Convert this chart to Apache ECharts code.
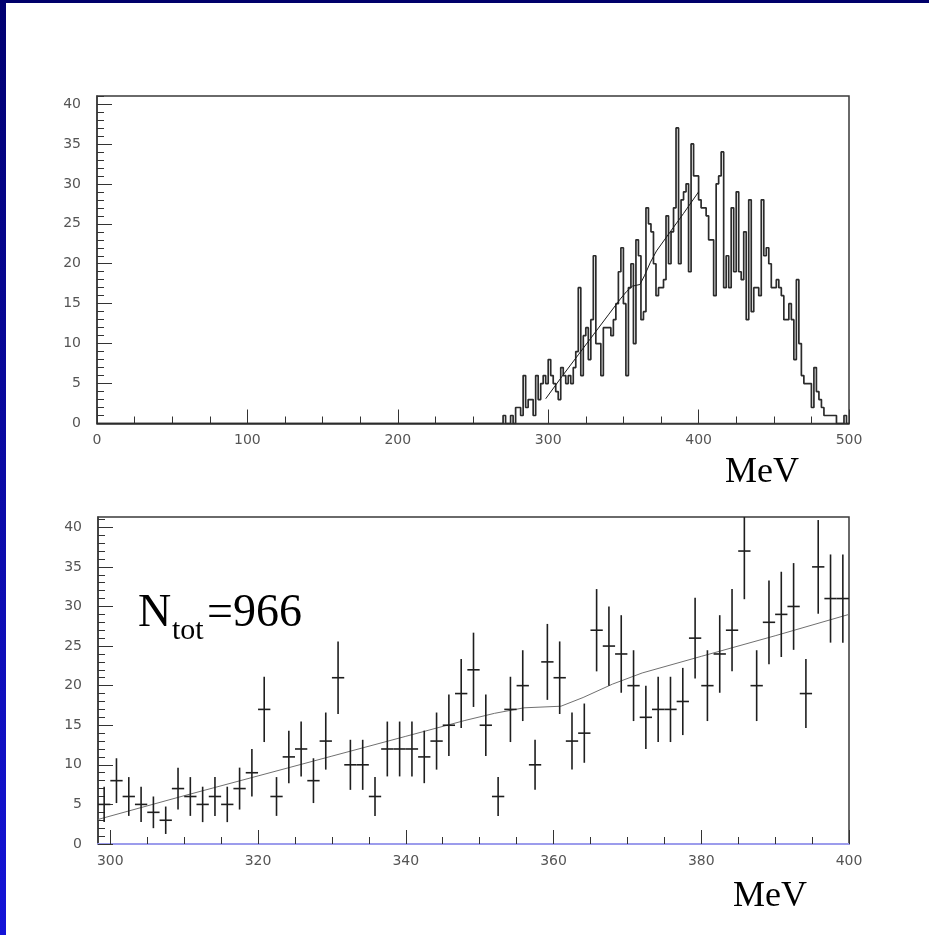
<!DOCTYPE html>
<html>
<head>
<meta charset="utf-8">
<script src="https://cdn.jsdelivr.net/npm/echarts@6/dist/echarts.min.js"></script>
<style>
  html, body { margin: 0; padding: 0; background: #ffffff; }
  #chart { width: 929px; height: 935px; }
</style>
</head>
<body>
<div id="chart"></div>
<script>
// Energy spectrum, fixed 5/3 MeV bins; the first listed bin starts at 270 MeV
const binWidth = 5 / 3;
const firstEdge = 270;
const counts = [
  1, 0, 0, 1, 0, 2, 2, 1, 6, 2, 3, 3, 1, 6, 3, 5, 6,
  5, 8, 6, 5, 4, 3, 7, 6, 5, 6, 5, 7, 9, 17, 6, 11, 12, 8, 13, 21,
  10, 10, 6, 12, 12, 12, 11, 13, 15, 19, 22, 15, 6, 17, 20, 10, 23, 21, 13, 14,
  27, 25, 24, 20, 16, 17, 17, 18, 26, 20, 24, 27, 37, 20, 28, 29, 30, 19, 35, 31, 31,
  28, 27, 27, 26, 23, 23, 16, 30, 31, 34, 17, 21, 17, 27, 19, 29, 19, 18, 24, 13,
  28, 14, 17, 17, 16, 28, 21, 22, 20, 17, 17, 18, 17, 16, 13, 13, 15, 13, 8, 18,
  10, 6, 5, 5, 5, 2, 7, 4, 3, 2, 1, 1, 1, 1, 1, 0, 0, 0, 1, 0
];

// Fitted curve over the 300-400 MeV window
const fitX = [298.33, 310, 320, 330, 340, 348, 352, 356, 361, 364, 368, 372, 380, 390, 400];
const fitY = [3.1, 6.1, 8.6, 11.1, 13.6, 15.6, 16.5, 17.2, 17.4, 18.5, 20.2, 21.6, 23.7, 26.3, 29.0];

// Axis ranges and tick positions
const topXRange = [0, 500];
const topXMajor = [0, 100, 200, 300, 400, 500];
const zoomXRange = [298.3333, 400];
const zoomXMajor = [300, 320, 340, 360, 380, 400];
const yMajor = [0, 5, 10, 15, 20, 25, 30, 35, 40];
const topYMax = 41;
const zoomYMax = 41.3;

function steps(a, b, s) {
  const out = [];
  for (let v = a; v <= b + 1e-9; v += s) out.push(+v.toFixed(6));
  return out;
}
const topXMinor = steps(0, 500, 25);
const zoomXMinor = steps(300, 400, 5);
const yMinor = steps(0, 41, 1);

// Histogram outline (left bin edges, drawn as steps)
const histLine = [[0, 0]];
counts.forEach((c, i) => histLine.push([firstEdge + i * binWidth, c]));
histLine.push([topXRange[1], 0]);

// Bin centres that fall in the zoomed window
const zoomPoints = [];
counts.forEach((c, i) => {
  const centre = firstEdge + (i + 0.5) * binWidth;
  if (centre > zoomXRange[0] && centre < zoomXRange[1]) zoomPoints.push([centre, c]);
});

const fitLine = fitX.map((x, i) => [x, fitY[i]]);

const tickFont = { color: '#555', fontSize: 14, fontFamily: 'DejaVu Sans' };
const frameColor = '#3a3a3a';

function mainX(gridIndex, range, major, lineColor, lineWidth) {
  return {
    type: 'value', gridIndex, position: 'bottom', offset: 0, min: range[0], max: range[1],
    axisLine: { show: true, onZero: false, lineStyle: { color: lineColor, width: lineWidth } },
    axisTick: { show: true, inside: true, length: 14, customValues: major, lineStyle: { color: '#333', width: 1 } },
    axisLabel: { show: true, customValues: major, margin: 10, ...tickFont },
    splitLine: { show: false }
  };
}
function minorX(gridIndex, range, minor) {
  return {
    type: 'value', gridIndex, position: 'bottom', offset: 0, min: range[0], max: range[1],
    axisLine: { show: false, onZero: false },
    axisTick: { show: true, inside: true, length: 7, customValues: minor, lineStyle: { color: '#333', width: 1 } },
    axisLabel: { show: false },
    splitLine: { show: false }
  };
}
function mainY(gridIndex, max) {
  return {
    type: 'value', gridIndex, position: 'left', offset: 0, min: 0, max,
    axisLine: { show: true, onZero: false, lineStyle: { color: frameColor, width: 1.5 } },
    axisTick: { show: true, inside: true, length: 15, customValues: yMajor, lineStyle: { color: '#333', width: 1 } },
    axisLabel: { show: true, customValues: yMajor, margin: 16, ...tickFont },
    splitLine: { show: false }
  };
}
function minorY(gridIndex, max) {
  return {
    type: 'value', gridIndex, position: 'left', offset: 0, min: 0, max,
    axisLine: { show: false, onZero: false },
    axisTick: { show: true, inside: true, length: 7, customValues: yMinor, lineStyle: { color: '#333', width: 1 } },
    axisLabel: { show: false },
    splitLine: { show: false }
  };
}

const chart = echarts.init(document.getElementById('chart'), null, { renderer: 'canvas' });

chart.setOption({
  animation: false,
  backgroundColor: '#ffffff',
  grid: [
    { left: 97, top: 96, width: 752, height: 327.5, show: true, borderColor: frameColor, borderWidth: 1.5 },
    { left: 98, top: 517, width: 751, height: 327, show: true, borderColor: frameColor, borderWidth: 1.5 }
  ],
  xAxis: [
    mainX(0, topXRange, topXMajor, frameColor, 1.5),
    minorX(0, topXRange, topXMinor),
    mainX(1, zoomXRange, zoomXMajor, '#9c9cec', 2),
    minorX(1, zoomXRange, zoomXMinor)
  ],
  yAxis: [
    mainY(0, topYMax),
    minorY(0, topYMax),
    mainY(1, zoomYMax),
    minorY(1, zoomYMax)
  ],
  series: [
    {
      name: 'spectrum', type: 'line', xAxisIndex: 0, yAxisIndex: 0,
      step: 'end', data: histLine, showSymbol: false, symbol: 'none',
      lineStyle: { color: '#2b2b2b', width: 1.7 }, z: 3
    },
    {
      name: 'fit (full range)', type: 'line', xAxisIndex: 0, yAxisIndex: 0,
      data: fitLine, showSymbol: false, symbol: 'none',
      lineStyle: { color: '#1a1a1a', width: 1 }, z: 4
    },
    {
      name: 'fit (window)', type: 'line', xAxisIndex: 2, yAxisIndex: 2,
      data: fitLine, showSymbol: false, symbol: 'none',
      lineStyle: { color: '#707070', width: 1 }, z: 3
    },
    {
      name: 'counts with Poisson errors', type: 'custom', xAxisIndex: 2, yAxisIndex: 2,
      data: zoomPoints, clip: true, z: 4,
      renderItem: function (params, api) {
        const x = api.value(0);
        const y = api.value(1);
        const err = Math.sqrt(y);
        const cs = params.coordSys;
        const top = cs.y, bottom = cs.y + cs.height;
        const l = api.coord([x - binWidth / 2, y]);
        const r = api.coord([x + binWidth / 2, y]);
        const lo = api.coord([x, y - err]);
        const hi = api.coord([x, y + err]);
        const style = { stroke: '#1e1e1e', lineWidth: 1.6 };
        return {
          type: 'group',
          children: [
            { type: 'line', shape: { x1: lo[0], y1: Math.min(lo[1], bottom), x2: hi[0], y2: Math.max(hi[1], top) }, style },
            { type: 'line', shape: { x1: l[0], y1: l[1], x2: r[0], y2: r[1] }, style }
          ]
        };
      }
    }
  ],
  graphic: [
    { type: 'rect', left: 0, top: 0, z: 100, shape: { width: 929, height: 3 }, style: { fill: '#00006a' } },
    {
      type: 'rect', left: 0, top: 0, z: 100, shape: { width: 6, height: 935 },
      style: {
        fill: new echarts.graphic.LinearGradient(0, 0, 0, 1, [
          { offset: 0, color: '#000070' },
          { offset: 1, color: '#1414d8' }
        ])
      }
    },
    { type: 'text', x: 725, y: 455, z: 50, style: { text: 'MeV', font: '36px "Liberation Serif"', fill: '#000', textAlign: 'left', textVerticalAlign: 'top' } },
    { type: 'text', x: 733, y: 879, z: 50, style: { text: 'MeV', font: '36px "Liberation Serif"', fill: '#000', textAlign: 'left', textVerticalAlign: 'top' } },
    { type: 'text', x: 138, y: 591, z: 50, style: { text: 'N', font: '46px "Liberation Serif"', fill: '#000', textAlign: 'left', textVerticalAlign: 'top' } },
    { type: 'text', x: 172, y: 616, z: 50, style: { text: 'tot', font: '30px "Liberation Serif"', fill: '#000', textAlign: 'left', textVerticalAlign: 'top' } },
    { type: 'text', x: 207, y: 591, z: 50, style: { text: '=966', font: '46px "Liberation Serif"', fill: '#000', textAlign: 'left', textVerticalAlign: 'top' } }
  ]
});
</script>
</body>
</html>
